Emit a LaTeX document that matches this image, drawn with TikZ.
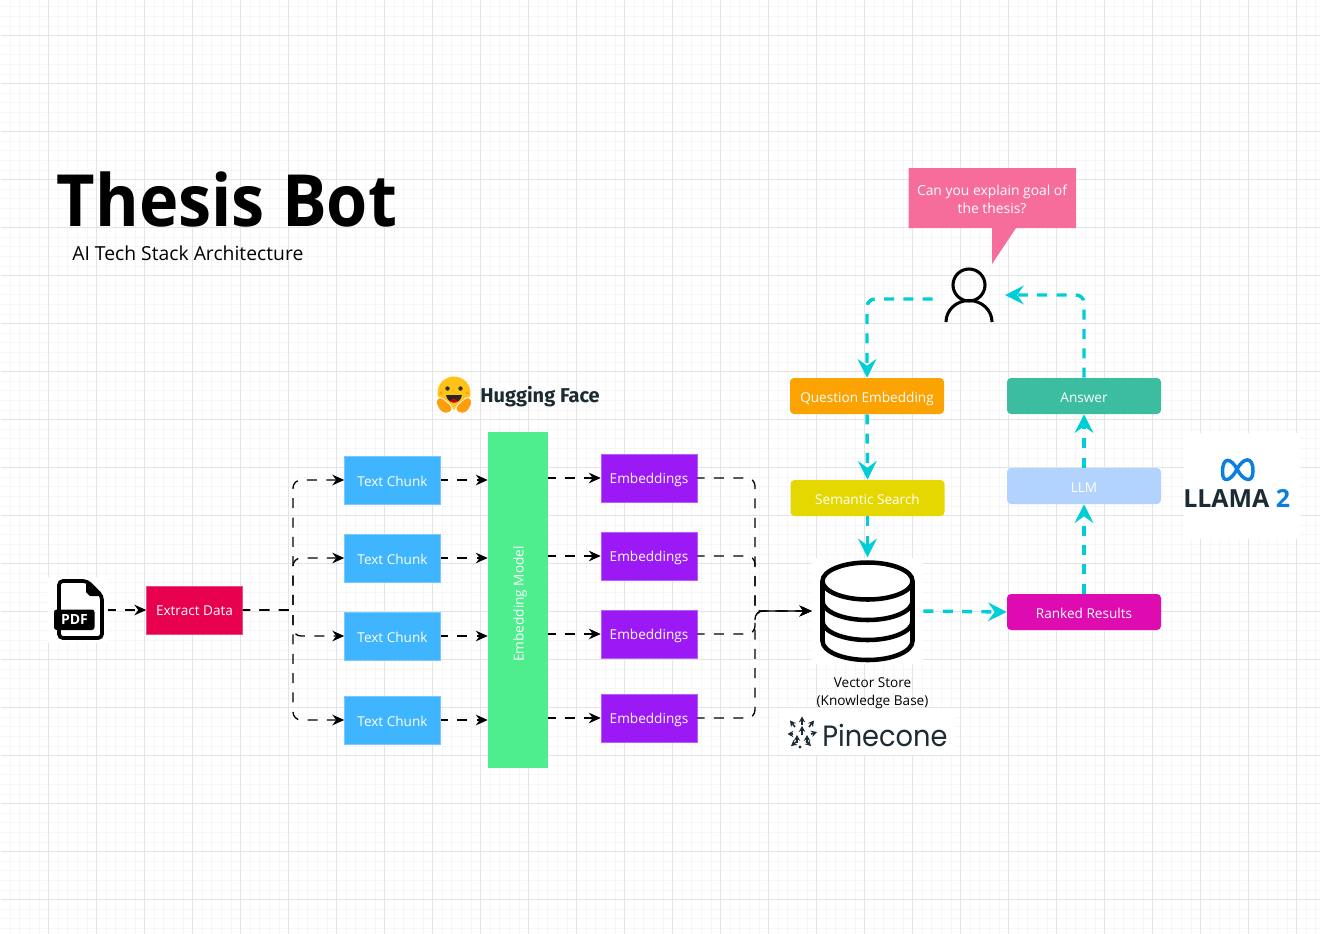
\documentclass[tikz,border=0pt]{standalone}
\usepackage{fontspec}
\setmainfont{Open Sans}
\newfontfamily\titlefont[FakeStretch=0.925]{Open Sans}
\newfontfamily\hugfont{Fira Sans}
\newfontfamily\conefont[FakeStretch=0.93]{Poppins}
\usetikzlibrary{arrows.meta}

\definecolor{gridmajor}{HTML}{E4E4E4}
\definecolor{gridminor}{HTML}{F6F6F6}
\definecolor{extractred}{HTML}{E6004E}
\definecolor{chunkblue}{HTML}{3FB4FF}
\definecolor{modelgreen}{HTML}{4EEE8E}
\definecolor{embedpurple}{HTML}{9B19F5}
\definecolor{questionorange}{HTML}{FAA302}
\definecolor{searchyellow}{HTML}{E5D800}
\definecolor{rankedpink}{HTML}{DD0BB0}
\definecolor{llmblue}{HTML}{B3D3FF}
\definecolor{answergreen}{HTML}{3CBD9F}
\definecolor{bubblepink}{HTML}{F66C9B}
\definecolor{flowcyan}{HTML}{00CED6}
\definecolor{metablue}{HTML}{0A7FE0}
\definecolor{llamadark}{HTML}{1C2B33}
\definecolor{hugyellow}{HTML}{FFD21E}
\definecolor{hugorange}{HTML}{FF9D0B}

\begin{document}
\begin{tikzpicture}[x=0.75pt,y=-0.75pt]
\tikzstyle{box}=[rectangle, inner sep=0pt, text=white, font=\fontsize{10.2}{13.5}\selectfont, align=center, text height=9pt, text depth=0pt]
\tikzstyle{chunk}=[box, fill=chunkblue, draw=chunkblue!70!white, line width=0.4pt, minimum width=72pt, minimum height=36pt]
\tikzstyle{embed}=[box, fill=embedpurple, draw=embedpurple!70!white, line width=0.4pt, minimum width=72pt, minimum height=36pt, text height=7.5pt]
\tikzstyle{step_box}=[box, rounded corners=3pt, minimum width=115.5pt, minimum height=27pt]
\tikzstyle{patch}=[rectangle, fill=white, inner sep=0pt]
\tikzstyle{flow}=[dash pattern=on 7.5pt off 7pt, dash phase=2pt, line width=1pt, rounded corners=6pt, -{Stealth[length=9pt,width=8pt,inset=3pt]}]
\tikzstyle{cyanflow}=[dash pattern=on 7.5pt off 7pt, line width=2.6pt, flowcyan, rounded corners=6pt, -{Stealth[length=14pt,width=14pt,inset=5pt]}]
\tikzstyle{conetip}=[line width=1.2pt, llamadark, -{Stealth[length=4.4pt,width=4.8pt]}]

% grid paper
\useasboundingbox (0,0) rectangle (1320,933);
\begin{scope}
\clip (1,0) rectangle (1320,933);
\begin{scope}[shift={(0.5,35.5)}]
\draw[gridminor, line width=0.6pt, step=7.2pt] (-48,960) grid (1344,-48);
\draw[gridmajor, line width=0.8pt, step=36pt] (-48,960) grid (1344,-48);
\end{scope}
\end{scope}

\coordinate (pdf) at (78,610);
\coordinate (extract) at (194.5,610);
\coordinate (bus_l) at (293,610);

\coordinate (chunk_1) at (392.5,480);
\coordinate (chunk_2) at (392.5,558);
\coordinate (chunk_3) at (392.5,636);
\coordinate (chunk_4) at (392.5,720);

\coordinate (model) at (518,600);

\coordinate (embed_1) at (649,478);
\coordinate (embed_2) at (649,556);
\coordinate (embed_3) at (649,634);
\coordinate (embed_4) at (649,718);

\coordinate (bus_r) at (755,611);
\coordinate (store) at (867.5,611);

\coordinate (question) at (867,396);
\coordinate (search) at (867.5,498);
\coordinate (ranked) at (1084,612);
\coordinate (llm) at (1084,486);
\coordinate (answer) at (1084,396);
\coordinate (user) at (969,299);
\coordinate (user_in) at (1005,295);

% white backs of the pictures
\node[patch, minimum width=45pt, minimum height=50pt] (pdf) at (pdf) {};
\node[patch, minimum width=83.5pt, minimum height=80pt] (store) at (store) {};
\node[patch, minimum width=131pt, minimum height=35pt] (cone_back) at (867.5,731.5) {};
\node[patch, minimum width=87pt, minimum height=80pt] (llama_back) at (1242,486) {};
\node[minimum width=54pt, minimum height=54pt, inner sep=0pt] (user) at (user) {};

\node[box, fill=extractred, draw=extractred!70!white, line width=0.4pt, minimum width=72pt, minimum height=36pt, text height=7.5pt] (extract) at (extract) {Extract Data};

\node[chunk] (chunk_1) at (chunk_1) {Text Chunk};
\node[chunk] (chunk_2) at (chunk_2) {Text Chunk};
\node[chunk] (chunk_3) at (chunk_3) {Text Chunk};
\node[chunk] (chunk_4) at (chunk_4) {Text Chunk};

\node[box, fill=modelgreen, minimum width=45pt, minimum height=252pt] (model) at (model) {};
\node[box, rotate=90] (model_text) at (517.5,604) {Embedding Model};

\node[embed] (embed_1) at (embed_1) {Embeddings};
\node[embed] (embed_2) at (embed_2) {Embeddings};
\node[embed] (embed_3) at (embed_3) {Embeddings};
\node[embed] (embed_4) at (embed_4) {Embeddings};

\node[step_box, fill=questionorange] (question) at (question) {Question Embedding};
\node[step_box, fill=searchyellow] (search) at (search) {Semantic Search};
\node[step_box, fill=rankedpink] (ranked) at (ranked) {Ranked Results};
\node[step_box, fill=llmblue] (llm) at (llm) {LLM};
\node[step_box, fill=answergreen] (answer) at (answer) {Answer};

% text
\node[anchor=base west, inner sep=0pt, font=\titlefont\fontsize{54}{60}\selectfont\bfseries] (title) at (56.5,226.5) {Thesis Bot};
\node[anchor=base west, inner sep=0pt, font=\fontsize{14.5}{18}\selectfont] (subtitle) at (72,260) {AI Tech Stack Architecture};
\node[inner sep=0pt, font=\fontsize{10.2}{13.5}\selectfont, align=center] (store_text) at (872.5,693) {Vector Store\\(Knowledge Base)};
\node[anchor=west, inner sep=0pt, font=\hugfont\fontsize{15}{18}\selectfont\bfseries, text=llamadark] (hug_text) at (480,397) {Hugging Face};
\node[anchor=base west, inner sep=0pt, font=\conefont\fontsize{22}{26}\selectfont, text=llamadark] (cone_text) at (822,746) {Pinecone};
\node[anchor=base west, inner sep=0pt, font=\fontsize{18.7}{22}\selectfont\bfseries, text=llamadark] (llama_text) at (1183,507) {LLAMA \textcolor{metablue}{2}};

% speech bubble
\fill[bubblepink] (908.5,168) -- (1076,168) -- (1076,228) -- (1016,228) -- (992,264) -- (992,228) -- (908.5,228) -- cycle;
\node[inner sep=0pt, text=white, font=\fontsize{10.4}{13.5}\selectfont, align=center] (bubble) at (992,199) {Can you explain goal of\\the thesis?};

% person
\draw[line width=2.3pt] (969,285) circle (16);
\draw[line width=2.3pt] (946,322) arc[start angle=180, end angle=360, x radius=23, y radius=21.5];

% pdf icon
\draw[line width=2.8pt, rounded corners=3pt, fill=white] (59,581) -- (87,581) -- (102,596) -- (102,638) -- (59,638) -- cycle;
\fill (86,580) -- (103,596) -- (90,596) -- (86,592) -- cycle;
\fill[rounded corners=2pt] (54,609.5) rectangle (94.5,630);
\node[inner sep=0pt, text=white, font=\fontsize{10.5}{12}\selectfont\bfseries] (pdf_text) at (74.5,619.5) {PDF};

% database icon
\draw[line width=3.4pt] (867.5,581) ellipse[x radius=45, y radius=18.5];
\draw[line width=3.4pt] (822.5,581) -- (822.5,641) arc[start angle=180, end angle=0, x radius=45, y radius=19] -- (912.5,581);
\draw[line width=3.4pt] (822.5,601) arc[start angle=180, end angle=0, x radius=45, y radius=19];
\draw[line width=3.4pt] (822.5,621) arc[start angle=180, end angle=0, x radius=45, y radius=19];

% hugging face icon
\fill[hugyellow!70!hugorange] (454,393) circle (16.5);
\fill[black!80] (447.5,388.5) circle (2.2);
\fill[black!80] (460.5,388.5) circle (2.2);
\fill[hugorange] (441,393) circle (1.6);
\fill[hugorange] (467,393) circle (1.6);
\fill[black!85] (446,395) .. controls (448,405) and (460,405) .. (462,395) -- cycle;
\fill[red!80!black] (450,401) .. controls (452,398) and (456,398) .. (458,401) .. controls (456,403) and (452,403) .. (450,401) -- cycle;
\draw[white, line width=0.6pt, fill=hugorange, rounded corners=3pt] (435,401) -- (440,396) -- (453,407) -- (451,413) -- (441,413) -- cycle;
\draw[white, line width=0.6pt, fill=hugorange, rounded corners=3pt] (473,401) -- (468,396) -- (455,407) -- (457,413) -- (467,413) -- cycle;

% meta icon
\draw[metablue, line width=2.6pt] (1237,469) .. controls (1231,458) and (1222.5,456) .. (1222.5,472) .. controls (1222.5,484) and (1231,481) .. (1237,469) .. controls (1243,458) and (1253,455) .. (1253,471) .. controls (1253,484) and (1243,481) .. (1237,469);

% pinecone icon
\draw[conetip] (802,725) -- (802,716.5);
\draw[conetip] (809,727) -- (814,720.5);
\draw[conetip] (811,734) -- (817,732);
\draw[conetip] (806,741) -- (811,746);
\draw[conetip] (796,742) -- (791,746);
\draw[conetip] (793,734) -- (787.5,734);
\draw[conetip] (795,727) -- (790,720.5);
\draw[conetip] (802,735) -- (802,726);
\draw[conetip] (797,743) -- (797,735);
\draw[conetip] (807,743) -- (807,735);
\fill[llamadark] (800,747) circle (1.6);

% left half
\draw[flow] (pdf.east) -- (extract.west);

\draw[flow] (extract.east) [sharp corners] -- (bus_l) [rounded corners=6pt] |- (chunk_1.west);
\draw[flow] (extract.east) [sharp corners] -- (bus_l) [rounded corners=6pt] |- (chunk_2.west);
\draw[flow] (extract.east) [sharp corners] -- (bus_l) [rounded corners=6pt] |- (chunk_3.west);
\draw[flow] (extract.east) [sharp corners] -- (bus_l) [rounded corners=6pt] |- (chunk_4.west);

\draw[flow] (chunk_1.east) -- (chunk_1.east -| model.west);
\draw[flow] (chunk_2.east) -- (chunk_2.east -| model.west);
\draw[flow] (chunk_3.east) -- (chunk_3.east -| model.west);
\draw[flow] (chunk_4.east) -- (chunk_4.east -| model.west);

\draw[flow] (embed_1.west -| model.east) -- (embed_1.west);
\draw[flow] (embed_2.west -| model.east) -- (embed_2.west);
\draw[flow] (embed_3.west -| model.east) -- (embed_3.west);
\draw[flow] (embed_4.west -| model.east) -- (embed_4.west);

\draw[flow] (embed_1.east) -- (embed_1.east -| bus_r) [sharp corners] -- (bus_r) -- (store.west);
\draw[flow] (embed_2.east) -- (embed_2.east -| bus_r) [sharp corners] -- (bus_r) -- (store.west);
\draw[flow] (embed_3.east) -| (bus_r) -- (store.west);
\draw[flow] (embed_4.east) -| (bus_r) -- (store.west);

% right half
\draw[cyanflow] (user.west) -| (question.north);
\draw[cyanflow] (question.south) -- (search.north);
\draw[cyanflow] (search.south) -- (store.north);
\draw[cyanflow] (store.east) -- (ranked.west);
\draw[cyanflow] (ranked.north) -- (llm.south);
\draw[cyanflow] (llm.north) -- (answer.south);
\draw[cyanflow] (answer.north) |- (user_in);

\end{tikzpicture}
\end{document}
